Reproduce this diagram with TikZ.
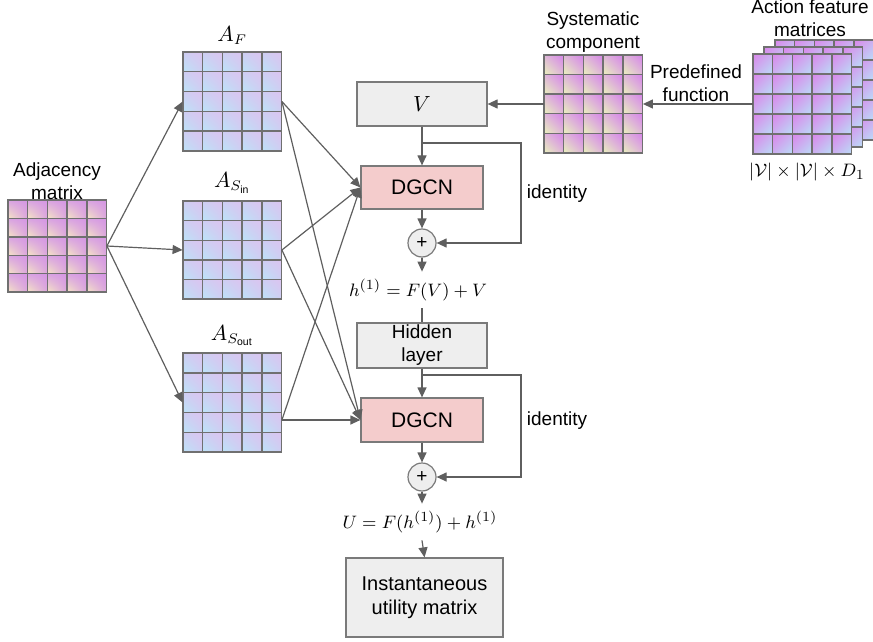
\documentclass[tikz,border=0pt]{standalone}
\usepackage{fontspec}
\setmainfont{Liberation Sans}
\usetikzlibrary{arrows.meta,fit,shadings}

\definecolor{lineg}{HTML}{5F5F5F}
\definecolor{cellg}{HTML}{707070}
\definecolor{boxg}{HTML}{EEEEEE}
\definecolor{boxline}{HTML}{7A7A7A}
\definecolor{dgcnred}{HTML}{F4CCCC}
\definecolor{adjul}{HTML}{D8A2E2}
\definecolor{adjur}{HTML}{D596E4}
\definecolor{adjll}{HTML}{F6E6C4}
\definecolor{adjlr}{HTML}{DAA4DE}
\definecolor{amid}{HTML}{CECDF2}
\definecolor{aur}{HTML}{DCC4F0}
\definecolor{all}{HTML}{BCE4F8}
\definecolor{sysmid}{HTML}{DEB6D8}
\definecolor{sysur}{HTML}{D684EA}
\definecolor{sysll}{HTML}{EAF2BC}
\definecolor{actul}{HTML}{DA86EA}
\definecolor{actmid}{HTML}{CBB0F0}
\definecolor{actlr}{HTML}{BADEF8}

\tikzset{
  conn/.style={draw=lineg, line width=0.6pt, -{Triangle[length=5pt,width=4.5pt]}},
  plain/.style={draw=lineg, line width=0.6pt},
  cellline/.style={draw=cellg, line width=0.7pt},
  greybox/.style={draw=boxline, line width=0.6pt, fill=boxg, inner sep=0, align=center},
  dgcnbox/.style={greybox, fill=dgcnred, font=\fontsize{10.5}{12}\selectfont},
  plusnode/.style={circle, draw=boxline, line width=0.6pt, fill=boxg, minimum size=14pt, inner sep=0},
  adjcell/.style={upper left=adjul, upper right=adjur, lower left=adjll, lower right=adjlr},
  acell/.style={upper left=amid, upper right=aur, lower left=all, lower right=amid},
  syscell/.style={upper left=sysmid, upper right=sysur, lower left=sysll, lower right=sysmid},
  actcell/.style={upper left=actul, upper right=actmid, lower left=actmid, lower right=actlr}
}

% 5x5 matrix picture: name, top left corner, cell style, cell height
\newcommand{\matgrid}[4]{%
  \begin{scope}[shift={(#2)}]
    \foreach \i in {0,...,4}
      \foreach \j in {0,...,4}
        \shade[#3] (\i*19.7,\j*#4) rectangle ++(19.7,#4);
    \foreach \i in {0,...,4}
      \foreach \j in {0,...,4}
        \draw[cellline] (\i*19.7,\j*#4) rectangle ++(19.7,#4);
    \path (0,0) coordinate (#1-nw) (98.5,5*#4) coordinate (#1-se);
    \node[fit=(#1-nw)(#1-se), inner sep=0] (#1) {};
  \end{scope}
}

\begin{document}
\begin{tikzpicture}[x=0.5pt,y=-0.5pt,font=\fontsize{9.5}{11.5}\selectfont]
  \useasboundingbox (0,0) rectangle (873,642);

  % matrices
  \matgrid{adj}{8,200}{adjcell}{18.4}
  \matgrid{af}{183,52}{acell}{19.8}
  \matgrid{asin}{183,201}{acell}{19.6}
  \matgrid{asout}{183,353}{acell}{19.8}
  \matgrid{sys}{544,55}{syscell}{19.6}
  \matgrid{act3}{775,40}{actcell}{20}
  \matgrid{act2}{764,47}{actcell}{20}
  \matgrid{act1}{753,54}{actcell}{20}

  \node[align=center] (adjlab) at (57,181) {Adjacency\\matrix};
  \node[anchor=south] (aflab) at (af.north) {\fontsize{10.5}{12}\selectfont$A_F$};
  \node[anchor=south] (asinlab) at (asin.north) {\fontsize{10.5}{12}\selectfont$A_{S_\mathrm{in}}$};
  \node[anchor=south] (asoutlab) at (asout.north) {\fontsize{10.5}{12}\selectfont$A_{S_\mathrm{out}}$};
  \node[align=center] (syslab) at (593,32) {Systematic\\component};
  \node[align=center] (actlab) at (810,18) {Action feature\\matrices};
  \node (dimlab) at (807,172) {$|\mathcal{V}|\times|\mathcal{V}|\times D_1$};
  \node[align=center] (predef) at (696,83) {Predefined\\function};

  % network
  \node[greybox, minimum width=65pt, minimum height=22pt] (V) at (422,104) {\fontsize{10.5}{12}\selectfont$V$};
  \node[dgcnbox, minimum width=61pt, minimum height=21.5pt] (dgcn1) at (422,187.5) {DGCN};
  \node[plusnode] (plus1) at (422,243) {+};
  \node (hlab) at (418,290) {$h^{(1)} = F(V) + V$};
  \node[greybox, minimum width=65pt, minimum height=22.5pt] (hidden) at (422,345.5) {Hidden\\layer};
  \node[dgcnbox, minimum width=61pt, minimum height=22pt] (dgcn2) at (422,420) {DGCN};
  \node[plusnode] (plus2) at (422,477) {+};
  \node (ulab) at (420,522) {$U = F(h^{(1)}) + h^{(1)}$};
  \node[greybox, minimum width=78.5pt, minimum height=39.5pt, font=\fontsize{10}{12}\selectfont] (final) at (424.5,597.5) {Instantaneous\\utility matrix};
  \node (id1) at (557,194) {identity};
  \node (id2) at (557,421) {identity};
  \coordinate (split1) at (422,143);
  \coordinate (split2) at (422,375);

  \draw[conn] (adj.east) -- (af.west);
  \draw[conn] (adj.east) -- (asin.west);
  \draw[conn] (adj.east) -- (asout.west);
  \draw[conn] (af.east) -- (dgcn1.west);
  \draw[conn] (af.east) -- (dgcn2.west);
  \draw[conn] (asin.east) -- (dgcn1.west);
  \draw[conn] (asin.east) -- (dgcn2.west);
  \draw[conn] (asout.east |- dgcn2.west) -- (dgcn1.west);
  \draw[conn] (asout.east |- dgcn2.west) -- (dgcn2.west);

  \draw[conn] (act1.west) -- (sys.east);
  \draw[conn] (sys.west) -- (V.east);
  \draw[conn] (V) -- (dgcn1);
  \draw[conn] (dgcn1) -- (plus1);
  \draw[conn] (split1) -- ++(99,0) |- (plus1.east);
  \draw[conn] (plus1.south) -- (plus1.south |- hlab.north);
  \draw[plain] (plus1.south |- hlab.south) -- (hidden.north);
  \draw[conn] (hidden) -- (dgcn2);
  \draw[conn] (dgcn2) -- (plus2);
  \draw[conn] (split2) -- ++(99,0) |- (plus2.east);
  \draw[conn] (plus2.south) -- (plus2.south |- ulab.north);
  \draw[conn] (plus2.south |- ulab.south) -- (final.north);
\end{tikzpicture}
\end{document}
